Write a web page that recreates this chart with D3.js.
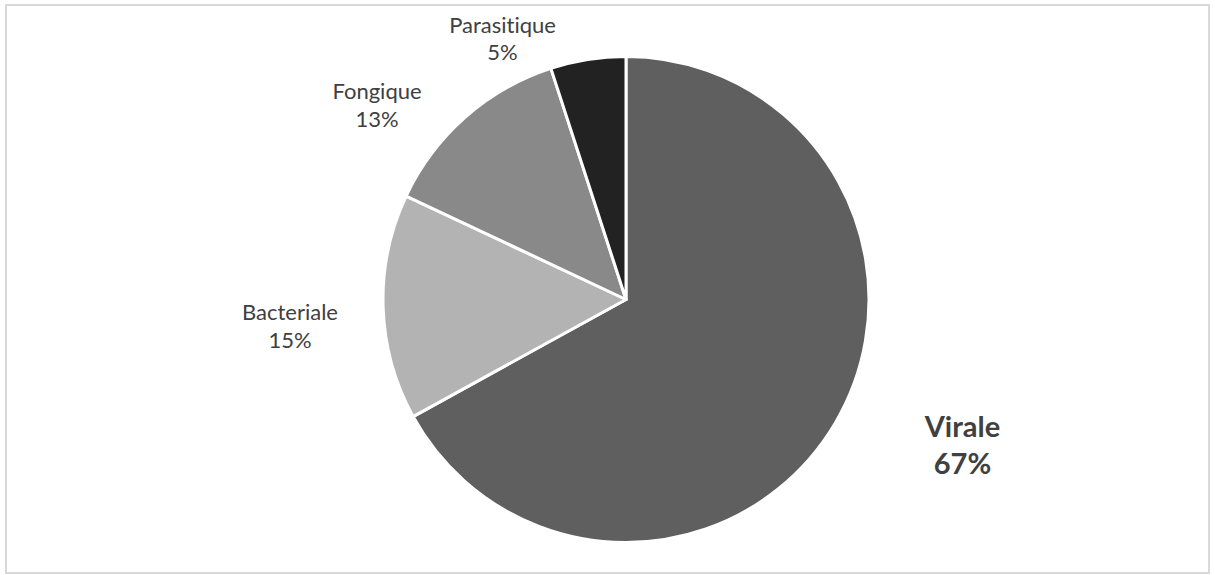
<!DOCTYPE html>
<html>
<head>
<meta charset="utf-8">
<script src="https://cdn.jsdelivr.net/npm/d3@7"></script>
<style>
  html, body { margin: 0; padding: 0; background: #fff; }
  svg { display: block; }
  text { font-variant-ligatures: none; font-feature-settings: "liga" 0, "clig" 0; }
</style>
</head>
<body>
<svg id="chart" width="1215" height="575"></svg>
<script>
// Types d'infection (%), dans l'ordre horaire depuis midi
const categories = ["Virale", "Bacteriale", "Fongique", "Parasitique"];
const values = [67, 15, 13, 5];
const colors = ["#5f5f5f", "#b3b3b3", "#898989", "#222222"];

const svg = d3.select("#chart");
const W = 1215, H = 575;

// cadre du graphique
svg.append("rect")
  .attr("x", 6).attr("y", 5)
  .attr("width", W - 12).attr("height", H - 7)
  .attr("fill", "#fff")
  .attr("stroke", "#d9d9d9")
  .attr("stroke-width", 2);

const cx = 626, cy = 299.5, r = 243;

const pie = d3.pie().sort(null).value(d => d.value);
const arcs = pie(categories.map((c, i) => ({ name: c, value: values[i], color: colors[i] })));
const arc = d3.arc().innerRadius(0).outerRadius(r);

const g = svg.append("g").attr("transform", `translate(${cx},${cy})`);
g.selectAll("path")
  .data(arcs)
  .join("path")
  .attr("d", arc)
  .attr("fill", d => d.data.color)
  .attr("stroke", "#fff")
  .attr("stroke-width", 3)
  .attr("stroke-linejoin", "round");

// étiquettes : centre horizontal et lignes de base des deux lignes
const labelPos = {
  "Virale":      { x: 962.5, y1: 436.5, y2: 473.5, bold: true },
  "Bacteriale":  { x: 290,   y1: 319.5, y2: 347.5 },
  "Fongique":    { x: 377,   y1: 98.5,  y2: 126.5 },
  "Parasitique": { x: 502.5, y1: 32.5,  y2: 60 }
};

arcs.forEach(d => {
  const p = labelPos[d.data.name];
  const size = p.bold ? 29 : 22;
  const t = svg.append("text")
    .attr("text-anchor", "middle")
    .attr("font-family", "Lato, 'Open Sans', sans-serif")
    .attr("font-size", size)
    .attr("font-weight", p.bold ? "bold" : "normal")
    .attr("fill", "#404040");
  t.append("tspan").attr("x", p.x).attr("y", p.y1).text(d.data.name);
  t.append("tspan").attr("x", p.x).attr("y", p.y2).text(d.data.value + "%");
});
</script>
</body>
</html>
